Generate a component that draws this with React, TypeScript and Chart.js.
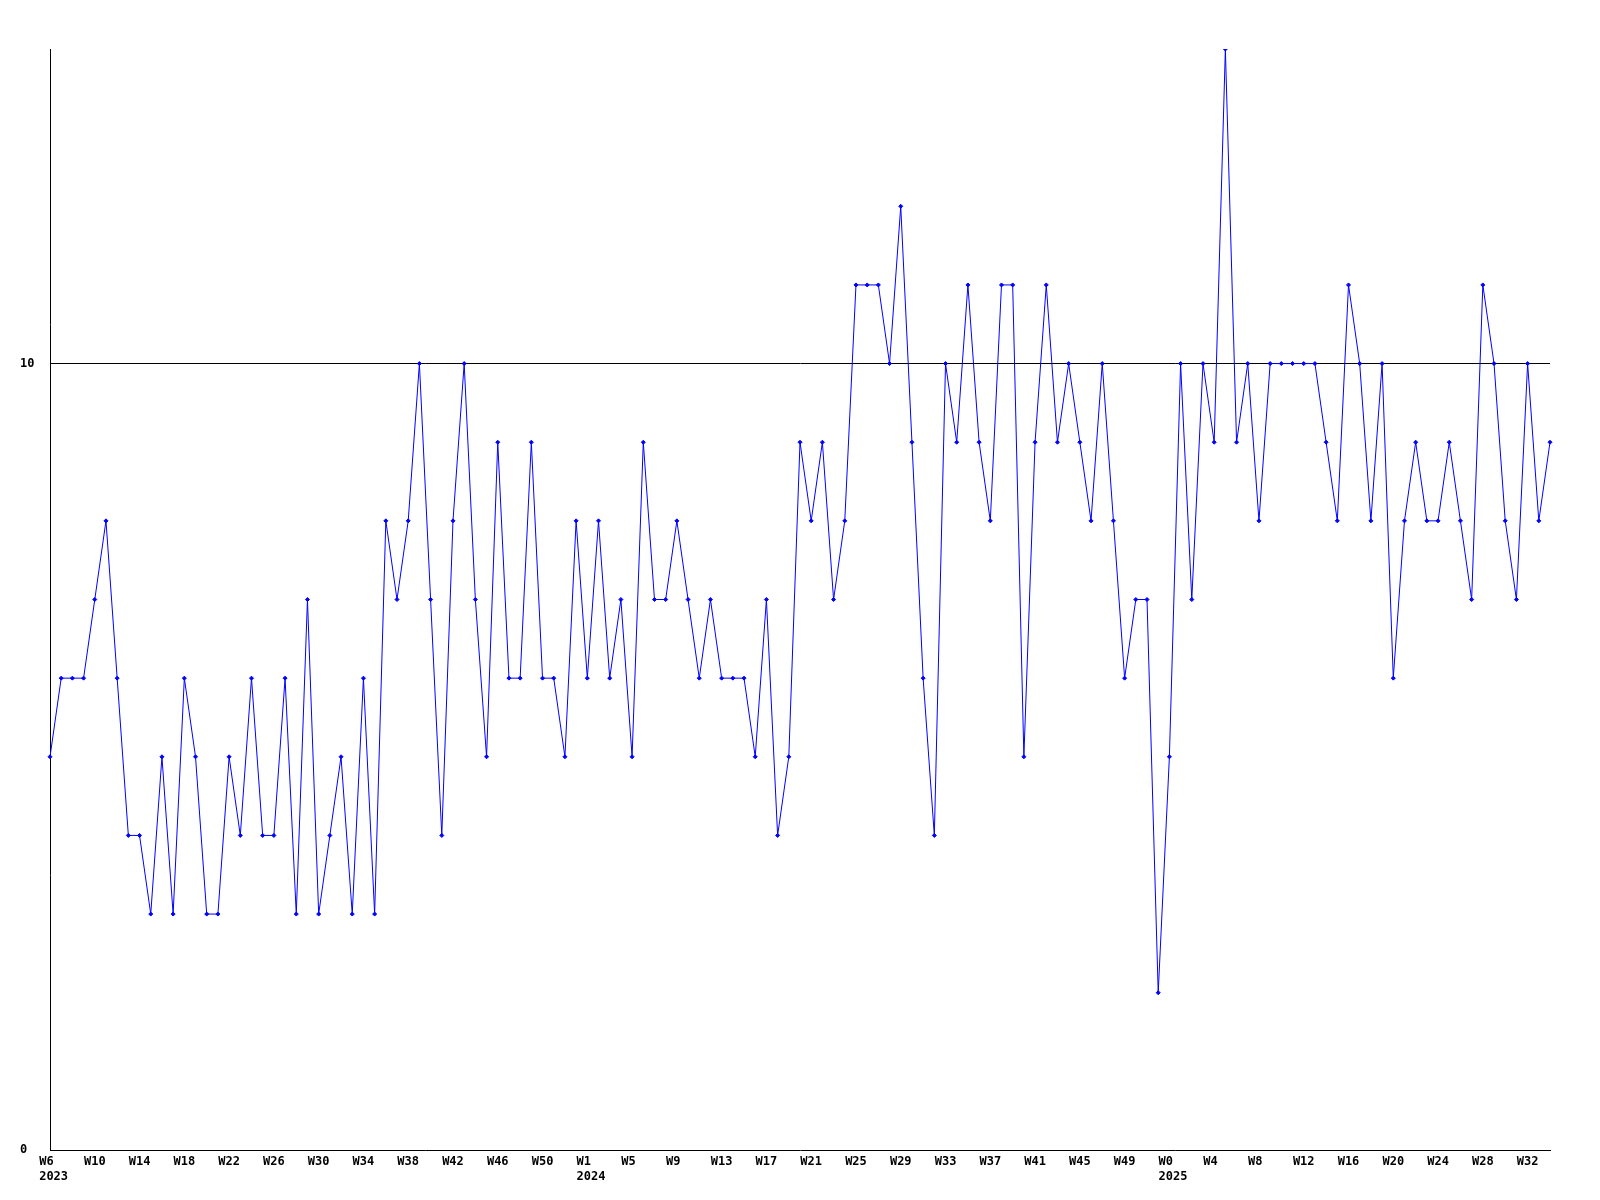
import React, { useEffect, useRef } from 'react';
import { Chart, registerables } from 'chart.js';

Chart.register(...registerables);

// Year blocks of the x axis (week numbers as printed on the axis)
const yearNames = ['2023', '2024', '2025'];
const yearFirstWeek = [6, 1, 0];
const yearLastWeek = [53, 52, 34];

// Weekly values
const values = [
  5, 6, 6, 6, 7, 8, 6, 4, 4, 3, 5, 3, 6, 5, 3, 3, 5, 4, 6, 4, 4, 6,
  3, 7, 3, 4, 5, 3, 6, 3, 8, 7, 8, 10, 7, 4, 8, 10, 7, 5, 9, 6, 6, 9,
  6, 6, 5, 8, 6, 8, 6, 7, 5, 9, 7, 7, 8, 7, 6, 7, 6, 6, 6, 5, 7, 4,
  5, 9, 8, 9, 7, 8, 11, 11, 11, 10, 12, 9, 6, 4, 10, 9, 11, 9, 8, 11, 11,
  5, 9, 11, 9, 10, 9, 8, 10, 8, 6, 7, 7, 2, 5, 10, 7, 10, 9, 14, 9, 10,
  8, 10, 10, 10, 10, 10, 9, 8, 11, 10, 8, 10, 6, 8, 9, 8, 8, 9, 8, 7, 11, 10, 8, 7, 10, 8, 9,
];

// Y axis tick labels shown
const yTicks = [0, 10];
const yMax = 14;
const labelEvery = 4;

const weekLabels: string[] = [];
const yearOfLabel: string[] = [];
const firstOfYear: boolean[] = [];
yearNames.forEach((y, i) => {
  for (let w = yearFirstWeek[i]; w <= yearLastWeek[i]; w++) {
    weekLabels.push('W' + w);
    yearOfLabel.push(y);
    firstOfYear.push(w === yearFirstWeek[i]);
  }
});

export default function App() {
  const ref = useRef<HTMLCanvasElement>(null);
  useEffect(() => {
    if (!ref.current) return;
    const font = { family: '"DejaVu Sans Mono", monospace', size: 12, weight: 'bold' as const, lineHeight: 1.2 };
    const chart = new Chart(ref.current, {
      type: 'line',
      data: {
        labels: weekLabels,
        datasets: [
          {
            data: values,
            borderColor: '#0000ff',
            backgroundColor: '#0000ff',
            borderWidth: 1,
            pointStyle: 'rectRot',
            pointRadius: 2,
            pointBorderWidth: 1,
            tension: 0,
            fill: false,
          },
        ],
      },
      options: {
        animation: false,
        responsive: false,
        devicePixelRatio: 1,
        layout: { padding: { left: 20, top: 49, right: 50, bottom: 0 } },
        plugins: { legend: { display: false }, tooltip: { enabled: false } },
        scales: {
          x: {
            type: 'category',
            offset: false,
            grid: { display: false, drawTicks: false },
            border: { display: true, color: '#000', width: 1 },
            ticks: {
              autoSkip: false,
              maxRotation: 0,
              minRotation: 0,
              padding: 5,
              color: '#000',
              font,
              callback: (_v: any, i: number) => {
                if (i % labelEvery !== 0) return null;
                const w = weekLabels[i];
                const wl = w.length < 3 ? w + ' ' : w;
                return firstOfYear[i] ? [wl, ' ' + yearOfLabel[i]] : wl;
              },
            },
            afterFit: (s: any) => {
              s.height = 50;
            },
          },
          y: {
            min: 0,
            max: yMax,
            afterBuildTicks: (s: any) => {
              s.ticks = yTicks.map((v) => ({ value: v }));
            },
            grid: {
              drawTicks: false,
              color: (ctx: any) => (ctx.tick && ctx.tick.value === 10 ? '#000' : 'rgba(0,0,0,0)'),
              lineWidth: 1,
            },
            border: { display: true, color: '#000', width: 1 },
            ticks: {
              crossAlign: 'far',
              padding: 0,
              color: '#000',
              font,
            },
            afterFit: (s: any) => {
              s.width = 30;
            },
          },
        },
      },
    });
    return () => chart.destroy();
  }, []);
  return (
    <div style={{ position: 'absolute', left: 0, top: 0, width: 1600, height: 1200, background: '#fff' }}>
      <canvas ref={ref} width={1600} height={1200} style={{ display: 'block' }} />
    </div>
  );
}
